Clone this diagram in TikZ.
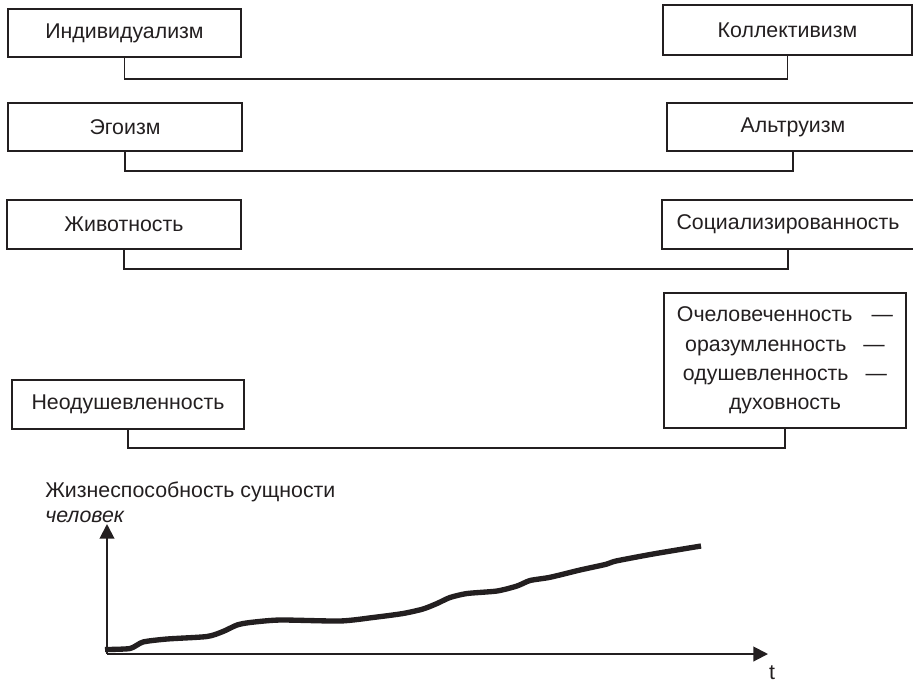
\documentclass[tikz,border=0pt]{standalone}
\usepackage{fontspec}
\setmainfont{Liberation Sans}
\usetikzlibrary{arrows.meta}
\definecolor{ink}{HTML}{231F20}

\tikzset{
  box/.style={draw=ink, line width=1.1pt, inner sep=0pt, text=ink},
  link/.style={draw=ink, line width=1.4pt},
  axis/.style={draw=ink, line width=1.5pt, -{Triangle[length=11pt,width=11pt]}}
}

\begin{document}
\begin{tikzpicture}[x=0.75pt, y=-0.75pt,
    font=\fontsize{16}{22}\selectfont]

        \useasboundingbox (0,0) rectangle (913,683);

        \node[box, minimum width=174.75pt, minimum height=36pt] (ind) at (124.5,33) {Индивидуализм};
        \node[box, minimum width=186.75pt, minimum height=37.5pt] (kol) at (787.5,30) {Коллективизм};

        \node[box, minimum width=175.5pt, minimum height=36pt] (ego) at (125,127) {Эгоизм};
        \node[box, minimum width=189pt, minimum height=36pt] (alt) at (793,127) {Альтруизм};

        \node[box, minimum width=175.5pt, minimum height=36.75pt] (jiv) at (124,224.5) {Животность};
        \node[box, minimum width=189pt, minimum height=36.75pt] (soc) at (788,224.5) {Социализированность};

        \node[box, minimum width=174pt, minimum height=36.75pt] (neo) at (128,404.5) {Неодушевленность};
        \node[box, minimum width=181.5pt, minimum height=101.25pt, align=center] (och) at (785,360.5)
        {Очеловеченность\hspace{0.9em}—\\оразумленность\hspace{0.8em}—\\одушевленность\hspace{0.8em}—\\духовность};

        % #######################################

        \draw[link] (ind.south) -- ++(0,21) -| (kol.south);
        \draw[link] (ego.south) -- ++(0,19) -| (alt.south);
        \draw[link] (jiv.south) -- ++(0,19) -| (soc.south);
        \draw[link] (neo.south) -- ++(0,18) -| (och.south);

        % #######################################

        \coordinate (o) at (107,654);
        \coordinate (ytip) at (107,524);
        \coordinate (xtip) at (768,654);

        \draw[axis] (o) -- (ytip);
        \draw[axis] (o) -- (xtip);

        \node[anchor=base west, text=ink, inner sep=0pt] (ylab) at (45,497) {Жизнеспособность сущности};
        \node[anchor=base west, text=ink, inner sep=0pt, font=\fontsize{16}{22}\selectfont\itshape] (ysub) at (45,522) {человек};
        \node[anchor=base, text=ink, inner sep=0pt] (tlab) at (772,679) {t};

        \draw[ink, line width=4pt] plot[smooth, tension=0.4] coordinates {
          (105,649.5) (130,648.5) (143,642) (167,639) (207,636.5) (223,631.5)
          (237,625) (250,622.5) (280,620) (340,621) (373,617.5) (403,613.5)
          (423,609) (437,603.5) (450,597.5) (467,593.5) (497,591) (517,586)
          (530,580.5) (550,577.3) (580,570) (606,564.3) (616,561) (653,554) (701,546)
        };

    \end{tikzpicture}
\end{document}
